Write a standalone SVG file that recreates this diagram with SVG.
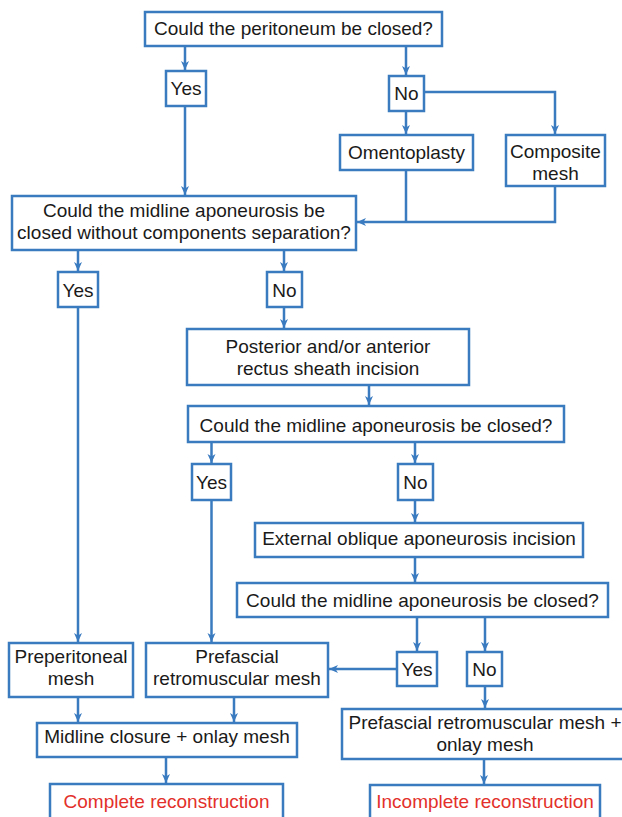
<svg xmlns="http://www.w3.org/2000/svg" width="622" height="817" viewBox="0 0 622 817">
<defs>
<marker id="ah" markerUnits="userSpaceOnUse" markerWidth="10" markerHeight="10" refX="9" refY="4.5" orient="auto">
<path d="M0,0.5 L9,4.5 L0,8.5 L2.5,4.5 z" fill="#3a7bc0"/>
</marker>
<style>
.b{fill:#fff;stroke:#3a7bc0;stroke-width:2.5}
.t{font-family:"Liberation Sans",Arial,Helvetica,sans-serif;font-size:19px;fill:#1a1a1a;text-anchor:middle}
.r{fill:#e3302a}
.c{fill:none;stroke:#3a7bc0;stroke-width:2.5}
.a{marker-end:url(#ah)}
</style>
</defs>
<rect width="622" height="817" fill="#fff"/>
<g id="connectors">
<path class="c a" d="M185,46 V70"/>
<path class="c a" d="M406,46 V75"/>
<path class="c a" d="M424,92 H555 V134"/>
<path class="c a" d="M406,111 V134"/>
<path class="c" d="M406,170 V222"/>
<path class="c a" d="M555,186 V222 H357"/>
<path class="c a" d="M185,106 V195"/>
<path class="c a" d="M78,250 V271"/>
<path class="c a" d="M284,250 V271"/>
<path class="c a" d="M284,307 V328"/>
<path class="c a" d="M78,307 V642"/>
<path class="c a" d="M369,385 V405"/>
<path class="c a" d="M211.5,442 V463"/>
<path class="c a" d="M415,442 V463"/>
<path class="c a" d="M415,500 V522"/>
<path class="c a" d="M415,557 V582"/>
<path class="c a" d="M417,617 V651"/>
<path class="c a" d="M485,617 V651"/>
<path class="c a" d="M397,669 H329"/>
<path class="c a" d="M211.5,500 V642"/>
<path class="c a" d="M485,686 V708"/>
<path class="c a" d="M78,697 V722"/>
<path class="c a" d="M234,697 V722"/>
<path class="c a" d="M166,757 V783"/>
<path class="c a" d="M484,759 V784"/>
</g>
<g id="q1"><rect class="b" x="145" y="12" width="297" height="34"/><text class="t" x="293.5" y="35">Could the peritoneum be closed?</text></g>
<g id="yes1"><rect class="b" x="166" y="71" width="40" height="35"/><text class="t" x="186" y="95">Yes</text></g>
<g id="no1"><rect class="b" x="389" y="76" width="35" height="35"/><text class="t" x="406.5" y="100">No</text></g>
<g id="omentoplasty"><rect class="b" x="340" y="135" width="133" height="35"/><text class="t" x="406.5" y="159">Omentoplasty</text></g>
<g id="composite"><rect class="b" x="506" y="135" width="99" height="51"/><text class="t" x="555.5" y="158">Composite</text><text class="t" x="555.5" y="180">mesh</text></g>
<g id="q2"><rect class="b" x="12" y="196" width="344" height="54"/><text class="t" x="184" y="217">Could the midline aponeurosis be</text><text class="t" x="184" y="239">closed without components separation?</text></g>
<g id="yes2"><rect class="b" x="58" y="272" width="40" height="35"/><text class="t" x="78" y="297">Yes</text></g>
<g id="no2"><rect class="b" x="267" y="272" width="35" height="35"/><text class="t" x="284.5" y="297">No</text></g>
<g id="posterior"><rect class="b" x="187" y="329" width="282" height="56"/><text class="t" x="328" y="353">Posterior and/or anterior</text><text class="t" x="328" y="375">rectus sheath incision</text></g>
<g id="q3"><rect class="b" x="188" y="406" width="376" height="36"/><text class="t" x="376" y="432">Could the midline aponeurosis be closed?</text></g>
<g id="yes3"><rect class="b" x="192" y="464" width="39" height="36"/><text class="t" x="211.5" y="489">Yes</text></g>
<g id="no3"><rect class="b" x="398" y="464" width="35" height="36"/><text class="t" x="415.5" y="489">No</text></g>
<g id="external"><rect class="b" x="255" y="523" width="328" height="34"/><text class="t" x="419" y="545">External oblique aponeurosis incision</text></g>
<g id="q4"><rect class="b" x="237" y="583" width="371" height="34"/><text class="t" x="422.5" y="607">Could the midline aponeurosis be closed?</text></g>
<g id="yes4"><rect class="b" x="397" y="652" width="40" height="34"/><text class="t" x="417" y="676">Yes</text></g>
<g id="no4"><rect class="b" x="467" y="652" width="35" height="34"/><text class="t" x="484.5" y="676">No</text></g>
<g id="preperitoneal"><rect class="b" x="9" y="643" width="124" height="54"/><text class="t" x="71" y="663">Preperitoneal</text><text class="t" x="71" y="685">mesh</text></g>
<g id="prefascial"><rect class="b" x="146" y="643" width="182" height="54"/><text class="t" x="237" y="663">Prefascial</text><text class="t" x="237" y="685">retromuscular mesh</text></g>
<g id="midline-closure"><rect class="b" x="37" y="723" width="260" height="34"/><text class="t" x="167" y="743">Midline closure + onlay mesh</text></g>
<g id="prefascial-onlay"><rect class="b" x="342" y="709" width="286" height="50"/><text class="t" x="485" y="729">Prefascial retromuscular mesh +</text><text class="t" x="485" y="751">onlay mesh</text></g>
<g id="complete"><rect class="b" x="50" y="784" width="233" height="40"/><text class="t r" x="166.5" y="808">Complete reconstruction</text></g>
<g id="incomplete"><rect class="b" x="370" y="785" width="230" height="40"/><text class="t r" x="485" y="808">Incomplete reconstruction</text></g>
</svg>
